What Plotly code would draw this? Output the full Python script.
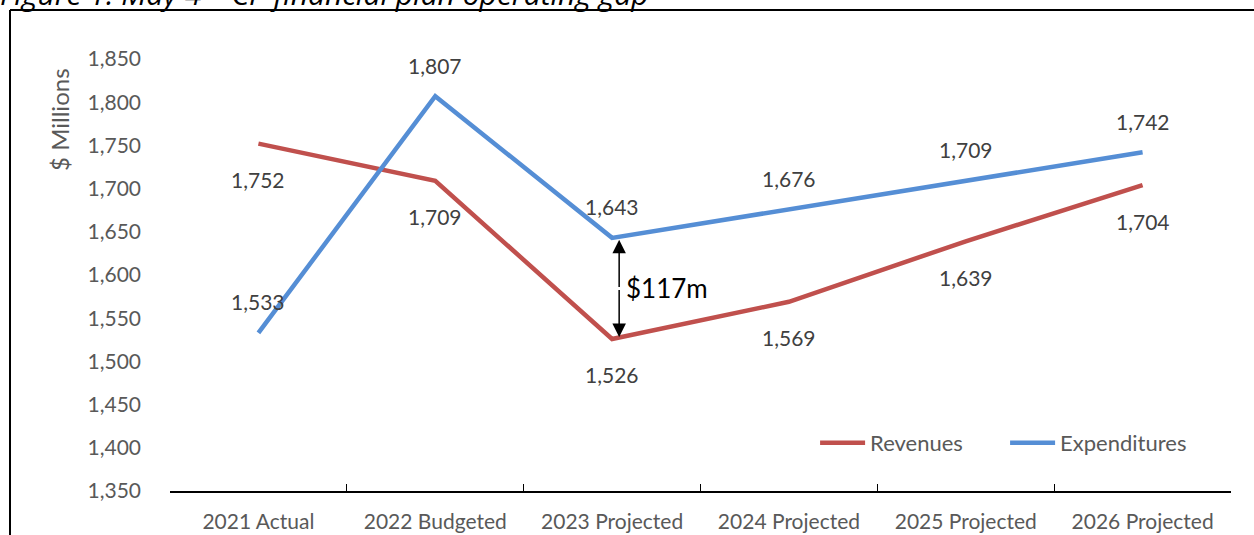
import plotly.graph_objects as go

# data
years = ['2021 Actual', '2022 Budgeted', '2023 Projected', '2024 Projected', '2025 Projected', '2026 Projected']
revenues = [1752, 1709, 1526, 1569, 1639, 1704]
expenditures = [1533, 1807, 1643, 1676, 1709, 1742]
gap_label = '$117m'
gap_year = '2023 Projected'

RED = '#C0504D'
BLUE = '#558ED5'
GREY = '#595959'
FONT = 'Lato'

fig = go.Figure()

fig.add_trace(go.Scatter(
    x=years, y=revenues, mode='lines', name='Revenues',
    line=dict(color=RED, width=4.5)
))
fig.add_trace(go.Scatter(
    x=years, y=expenditures, mode='lines', name='Expenditures',
    line=dict(color=BLUE, width=4.5)
))

# data labels - revenues below, expenditures above
for yr, v in zip(years, revenues):
    fig.add_annotation(x=yr, y=v, text=f'{v:,}', showarrow=False, yshift=-36,
                       font=dict(family=FONT, size=21, color='#404040'))
for yr, v in zip(years, expenditures):
    fig.add_annotation(x=yr, y=v, text=f'{v:,}', showarrow=False, yshift=31,
                       font=dict(family=FONT, size=21, color='#404040'))

# gap arrow (double headed)
i = years.index(gap_year)
lo, hi = revenues[i], expenditures[i]
for a, b in [(lo, hi), (hi, lo)]:
    fig.add_annotation(x=i + 0.04, y=a, ax=i + 0.04, ay=(a + b) / 2,
                       xref='x', yref='y', axref='x', ayref='y', text='',
                       showarrow=True, arrowhead=2, arrowsize=1.8, arrowwidth=1.5,
                       arrowcolor='black', standoff=2)
fig.add_annotation(x=i + 0.07, y=(lo + hi) / 2 + 1, text=gap_label, showarrow=False,
                   xanchor='left', font=dict(family=FONT, size=26, color='black'))

# y axis title
fig.add_annotation(xref='paper', yref='paper', x=-0.1037, y=0.859, text='$ Millions',
                   textangle=-90, showarrow=False, xanchor='center', yanchor='middle',
                   font=dict(family=FONT, size=24, color=GREY))

# figure caption (cut at top edge)
fig.add_annotation(xref='paper', yref='paper', x=-0.162, y=1.152, xanchor='left',
                   yanchor='middle', text='<i>Figure 1: May 4 – CP financial plan operating gap</i>',
                   showarrow=False, font=dict(family='Open Sans', size=30, color='black'))

# frame lines
fig.add_shape(type='line', xref='paper', yref='paper', x0=-0.1508, x1=-0.1508,
              y0=1.1134, y1=-0.2, line=dict(color='black', width=2))
fig.add_shape(type='line', xref='paper', yref='paper', x0=-0.1508, x1=1.1,
              y0=1.1134, y1=1.1134, line=dict(color='black', width=2))

fig.update_xaxes(
    type='category', range=[-0.5, 5.5], showline=True, linecolor='black', linewidth=1.5,
    ticks='inside', ticklen=7, tickcolor='black', tickson='boundaries',
    showgrid=False, ticklabelstandoff=11, automargin=False,
    tickfont=dict(family=FONT, size=21, color=GREY)
)
fig.update_yaxes(
    range=[1350, 1850], dtick=50, tickformat=',', showgrid=False, zeroline=False,
    showline=False, ticks='', ticklabelstandoff=28, automargin=False,
    tickfont=dict(family=FONT, size=21, color=GREY)
)

fig.update_layout(
    width=1254, height=535,
    margin=dict(l=170, r=23, t=59, b=44),
    plot_bgcolor='white', paper_bgcolor='white',
    showlegend=True,
    legend=dict(orientation='h', x=0.608, y=0.111, xanchor='left', yanchor='middle',
                entrywidth=130, itemwidth=45,
                font=dict(family=FONT, size=22, color=GREY),
                bgcolor='rgba(0,0,0,0)'),
)

# remove default page margin so the figure sits at the window's top-left corner
fig.write_html('out.html', config={'displayModeBar': False},
               post_script="document.body.style.margin='0';")
